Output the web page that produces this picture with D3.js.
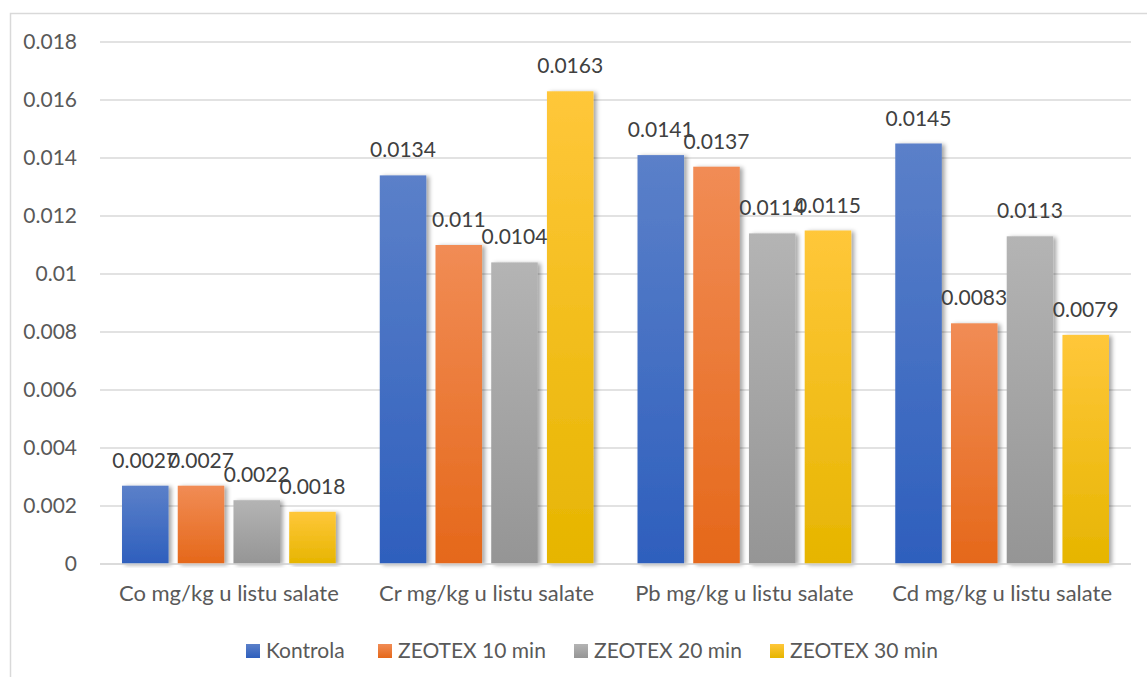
<!DOCTYPE html>
<html>
<head>
<meta charset="utf-8">
<script src="https://cdn.jsdelivr.net/npm/d3@7"></script>
<style>
  html, body { margin: 0; padding: 0; background: #fff; }
  svg { display: block; font-family: Lato, "Open Sans", sans-serif; }
</style>
</head>
<body>
<svg id="chart" width="1147" height="677"></svg>
<script>
const categories = ["Co mg/kg u listu salate", "Cr mg/kg u listu salate", "Pb mg/kg u listu salate", "Cd mg/kg u listu salate"];
const seriesNames = ["Kontrola", "ZEOTEX 10 min", "ZEOTEX 20 min", "ZEOTEX 30 min"];
const kontrola = [0.0027, 0.0134, 0.0141, 0.0145];
const zeotex10 = [0.0027, 0.011, 0.0137, 0.0083];
const zeotex20 = [0.0022, 0.0104, 0.0114, 0.0113];
const zeotex30 = [0.0018, 0.0163, 0.0115, 0.0079];
const yTicks = [0, 0.002, 0.004, 0.006, 0.008, 0.01, 0.012, 0.014, 0.016, 0.018];
const seriesValues = [kontrola, zeotex10, zeotex20, zeotex30];
const gradTop = ["#5b80c9", "#f18c55", "#b4b4b4", "#ffc73a"];
const gradBottom = ["#2e5fbd", "#e5681a", "#959595", "#e6b500"];

const svg = d3.select("#chart");
const defs = svg.append("defs");
seriesNames.forEach((s, i) => {
  const g = defs.append("linearGradient").attr("id", "g" + i)
    .attr("x1", 0).attr("y1", 0).attr("x2", 0).attr("y2", 1);
  g.append("stop").attr("offset", "0%").attr("stop-color", gradTop[i]);
  g.append("stop").attr("offset", "100%").attr("stop-color", gradBottom[i]);
});
const f = defs.append("filter").attr("id", "shadow")
  .attr("x", "-20%").attr("y", "-5%").attr("width", "150%").attr("height", "110%");
f.append("feDropShadow").attr("dx", 3).attr("dy", 1).attr("stdDeviation", 2)
  .attr("flood-color", "#000").attr("flood-opacity", 0.35);

// outer border
svg.append("rect").attr("x", 10.5).attr("y", 13.5).attr("width", 1150).attr("height", 700)
  .attr("fill", "none").attr("stroke", "#d9d9d9").attr("stroke-width", 1.5);

const y = d3.scaleLinear().domain([0, 0.018]).range([564, 42]);
const x0 = d3.scaleBand().domain(categories).range([100, 1131]);
const x1 = d3.scaleBand().domain(seriesNames).range([0, x0.bandwidth()])
  .paddingInner(0.165).paddingOuter(0.395);

// gridlines
svg.append("g").selectAll("line").data(yTicks).join("line")
  .attr("x1", 100).attr("x2", 1131)
  .attr("y1", d => y(d)).attr("y2", d => y(d))
  .attr("stroke", "#d9d9d9").attr("stroke-width", 1.5);

// y tick labels
svg.append("g").selectAll("text").data(yTicks).join("text")
  .attr("x", 77).attr("y", d => y(d)).attr("dy", "0.35em")
  .attr("text-anchor", "end").attr("fill", "#595959")
  .attr("font-size", 21)
  .text(d => d === 0 ? "0" : String(+d.toFixed(3)));

// bars
const groups = svg.append("g").selectAll("g").data(categories).join("g")
  .attr("transform", c => `translate(${x0(c)},0)`);
seriesNames.forEach((s, si) => {
  groups.append("rect")
    .attr("x", x1(s)).attr("width", x1.bandwidth())
    .attr("y", (c, ci) => y(seriesValues[si][ci]))
    .attr("height", (c, ci) => y(0) - y(seriesValues[si][ci]))
    .attr("fill", `url(#g${si})`)
    .attr("filter", "url(#shadow)");
});
// data labels
seriesNames.forEach((s, si) => {
  groups.append("text")
    .attr("x", x1(s) + x1.bandwidth() / 2)
    .attr("y", (c, ci) => y(seriesValues[si][ci]) - 18)
    .attr("text-anchor", "middle").attr("fill", "#404040")
    .attr("font-size", 21)
    .text((c, ci) => String(seriesValues[si][ci]));
});

// axis line
svg.append("line").attr("x1", 100).attr("x2", 1131).attr("y1", y(0)).attr("y2", y(0))
  .attr("stroke", "#d9d9d9").attr("stroke-width", 1.5);

// category labels
svg.append("g").selectAll("text").data(categories).join("text")
  .attr("x", c => x0(c) + x0.bandwidth() / 2).attr("y", 601)
  .attr("text-anchor", "middle").attr("fill", "#595959").attr("font-size", 22)
  .text(c => c);

// legend
const legendX = [246, 378, 574, 770];
const leg = svg.append("g").selectAll("g").data(seriesNames).join("g")
  .attr("transform", (d, i) => `translate(${legendX[i]},644)`);
leg.append("rect").attr("width", 14).attr("height", 14).attr("fill", (d, i) => `url(#g${i})`);
leg.append("text").attr("x", 20).attr("y", 7).attr("dy", "0.35em")
  .attr("fill", "#595959").attr("font-size", 21).text(d => d);
</script>
</body>
</html>
